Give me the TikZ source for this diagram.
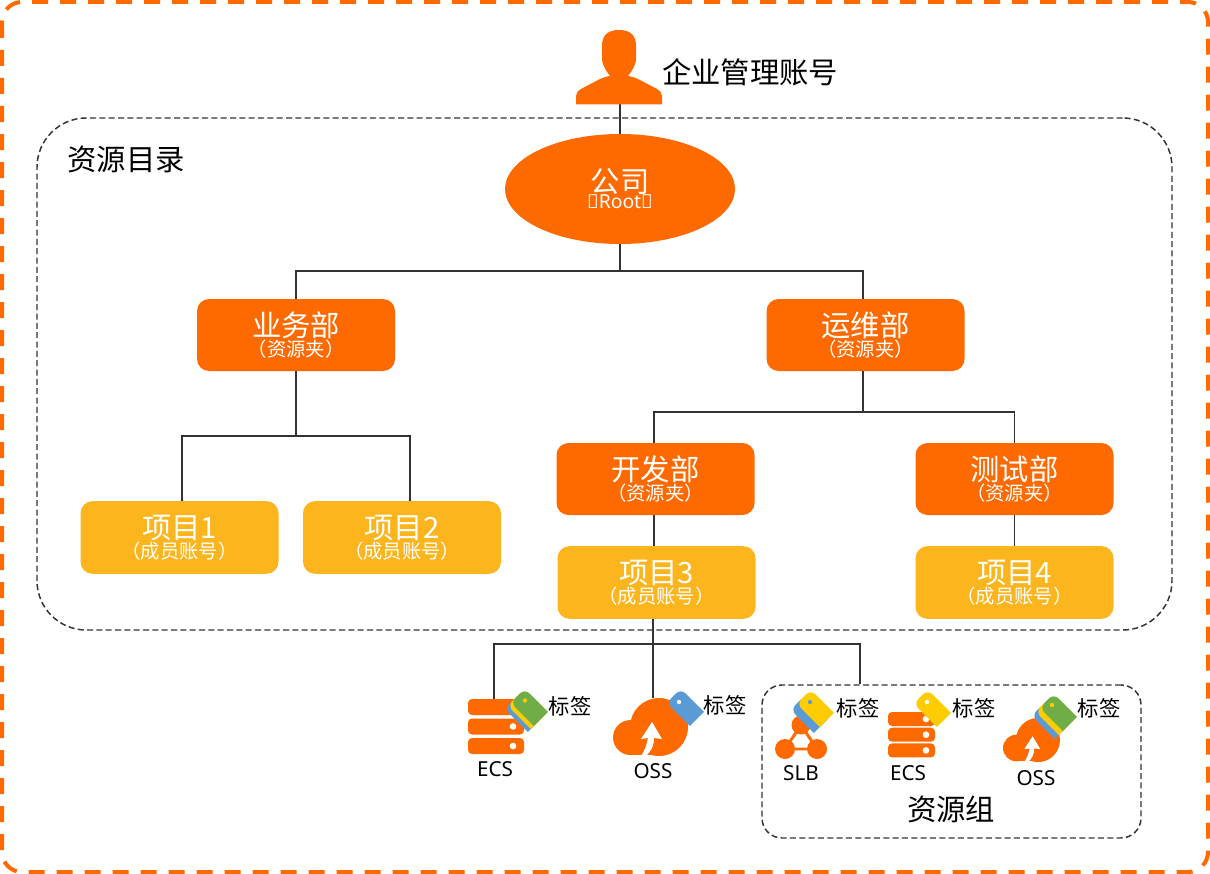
\documentclass[tikz,border=0pt]{standalone}
\usepackage{fontspec}
\setmainfont{Noto Sans CJK SC}
\newfontfamily\latf{Noto Sans}
\usetikzlibrary{shapes.geometric}
\definecolor{org}{HTML}{FF6A00}
\definecolor{amb}{HTML}{FDB51E}
\definecolor{lin}{HTML}{333333}
\definecolor{tgreen}{HTML}{70AD47}
\definecolor{tyellow}{HTML}{FFCC00}
\definecolor{tblue}{HTML}{5B9BD5}
\newcommand{\ttl}[2]{\fontsize{22}{22}\selectfont #1\\[0pt]\fontsize{14.5}{21}\selectfont #2}
\newcommand{\tagshape}[3]{%
  \begin{scope}[shift={(#1,#2)},rotate=-45]
    \fill[#3] (24,-10) -- (-2,-10) .. controls (-6,-10) and (-9,-7) .. (-9,-3) -- (-9,3) .. controls (-9,7) and (-6,10) .. (-2,10) -- (24,10) -- cycle;
  \end{scope}}
\newcommand{\taghole}[3]{\fill[#3] (#1,#2) circle (1.6pt);}
\newcommand{\barsicon}[6]{% x1 x2 y1 barheight gap dotx
  \foreach \i in {0,1,2}{
    \fill[org,rounded corners=3pt] (#1,{#3+\i*#5}) rectangle (#2,{#3+\i*#5+#4});
    \fill[white] (#6,{#3+\i*#5+#4/2}) circle (2.5pt);
  }}
\newcommand{\cloudicon}[3]{% x y scale
  \begin{scope}[shift={(#1,#2)},scale=#3]
    \fill[org] (17.5,39.5) circle [radius=17.5];
    \fill[org] (46,29) circle [radius=29];
    \fill[org] (17.5,57) -- (46,57) -- (46,30) -- (17.5,30) -- cycle;
    \fill[white] (39,24) -- (49,41) -- (41,40) .. controls (41,48) and (38,53) .. (33,58) -- (28,58) .. controls (32,52) and (34,46) .. (35,40) -- (28,41) -- cycle;
  \end{scope}}
\tikzset{
  x=.75pt,y=-.75pt,
  conn/.style={draw=lin,line width=1.1pt},
  outerdash/.style={draw=org,line width=3pt,dash pattern=on 12pt off 9pt,rounded corners=15pt},
  orgbox/.style={fill=org,text=white,rounded corners=9pt,minimum width=148.5pt,minimum height=54pt,inner sep=0pt,align=center},
  ambbox/.style={fill=amb,text=white,rounded corners=9pt,minimum width=148.5pt,minimum height=54.5pt,inner sep=0pt,align=center},
  rootnode/.style={ellipse,fill=org,text=white,minimum width=172.5pt,minimum height=82.5pt,inner sep=0pt,align=center},
  biglab/.style={inner sep=0pt,font=\fontsize{22}{22}\selectfont},
  taglab/.style={inner sep=0pt,font=\fontsize{16}{16}\selectfont},
  reslab/.style={inner sep=0pt,font=\latf\fontsize{15.5}{16}\selectfont},
  grpbox/.style={draw=lin,line width=1.1pt,dash pattern=on 4.5pt off 2.5pt,rounded corners=15pt,minimum width=284.25pt,minimum height=114.75pt,inner sep=0pt},
  catbox/.style={draw=lin,line width=1.1pt,dash pattern=on 4.5pt off 2.5pt,rounded corners=37pt,minimum width=851.25pt,minimum height=384pt,inner sep=0pt}
}
\begin{document}
\begin{tikzpicture}
\useasboundingbox (0,0) rectangle (1210,874);
\draw[outerdash] (2,2) rectangle (1208,872);
\node[catbox] (cat) at (604.5,374) {};
\node[grpbox] (grp) at (951.5,761.5) {};

\coordinate (person) at (620,104);
\coordinate (ecsA) at (494,699);
\coordinate (ossA) at (653,698);
\coordinate (j1) at (620,271);
\coordinate (j2) at (296,436);
\coordinate (j3) at (863,412);
\coordinate (j4) at (653,644);
\coordinate (xa) at (182,0);
\coordinate (xb) at (410,0);
\coordinate (xc) at (654,0);
\coordinate (xd) at (860,0);

\node[rootnode] (root) at (620,189) {\fontsize{22}{22}\selectfont 公司\\[0pt]\latf\fontsize{14.5}{21}\selectfont （Root）};
\node[orgbox] (biz) at (296,335) {\ttl{业务部}{（资源夹）}};
\node[orgbox] (ops) at (865.5,335) {\ttl{运维部}{（资源夹）}};
\node[orgbox] (dev) at (655.5,479) {\ttl{开发部}{（资源夹）}};
\node[orgbox] (tst) at (1014.5,479) {\ttl{测试部}{（资源夹）}};
\node[ambbox] (p1) at (179.5,537.5) {\ttl{项目1}{（成员账号）}};
\node[ambbox] (p2) at (402,537.5) {\ttl{项目2}{（成员账号）}};
\node[ambbox] (p3) at (656.5,582.5) {\ttl{项目3}{（成员账号）}};
\node[ambbox] (p4) at (1014.5,582.5) {\ttl{项目4}{（成员账号）}};

\draw[conn] (person) -- (root.north);
\draw[conn] (root.south) -- (j1);
\draw[conn] (j1) -| (biz.north);
\draw[conn] (j1) -| (j3 |- ops.north);
\draw[conn] (biz.south) -- (j2);
\draw[conn] (j2) -| (xa |- p1.north);
\draw[conn] (j2) -| (xb |- p2.north);
\draw[conn] (j3 |- ops.south) -- (j3);
\draw[conn] (j3) -| (xc |- dev.north);
\draw[conn] (j3) -| (tst.north);
\draw[conn] (xc |- dev.south) -- (xc |- p3.north);
\draw[conn] (tst.south) -- (p4.north);
\draw[conn] (j4 |- p3.south) -- (ossA);
\draw[conn] (j4) -| (ecsA);
\draw[conn] (j4) -| (xd |- grp.north);

% person
\fill[org] (619,30) .. controls (631,30) and (636,36) .. (636,46) -- (636,58) .. controls (636,66) and (631,72) .. (628,76)
  .. controls (632,76.5) and (636,78) .. (640,80) -- (657,89) .. controls (660,91) and (662,93) .. (662,96) -- (662,104.5) -- (576,104.5) -- (576,96)
  .. controls (576,93) and (578,91) .. (581,89) -- (598,80) .. controls (602,78) and (606,76.5) .. (610,76)
  .. controls (607,72) and (602,66) .. (602,58) -- (602,46) .. controls (602,36) and (607,30) .. (619,30) -- cycle;
\node[biglab,anchor=center] (acct) at (750,72) {企业管理账号};
\node[biglab] (catlab) at (126,159) {资源目录};

% ECS 1
\barsicon{468}{524}{699}{16}{19.5}{513}
\tagshape{518}{708}{tblue}
\tagshape{521}{705}{tyellow}
\tagshape{524}{702}{tgreen}
\taghole{525}{700.5}{tyellow}
\node[taglab] (t1) at (570,706) {标签};
\node[reslab] (ecs1) at (495,769) {ECS};

% OSS 1
\cloudicon{613}{698}{1}
\tagshape{680}{702}{tblue}
\taghole{679}{702}{white}
\node[taglab] (t2) at (725,705) {标签};
\node[reslab] (oss1) at (653,771) {OSS};

% SLB
\draw[org,line width=2.2pt] (801,725) -- (785,749) -- (817,749) -- cycle;
\fill[org] (801,725) circle [radius=9.5];
\fill[org] (785,749) circle [radius=10];
\fill[org] (817,749) circle [radius=10];
\tagshape{804}{709}{tblue}
\taghole{804}{707}{white}
\tagshape{810}{703}{tyellow}
\taghole{810}{702}{tblue}
\node[taglab] (t3) at (858,708) {标签};
\node[reslab] (slb) at (801,773) {SLB};

% ECS 2
\barsicon{888}{935}{712}{14}{15.7}{926}
\tagshape{927}{703}{tyellow}
\taghole{927}{702}{white}
\node[taglab] (t4) at (974,708) {标签};
\node[reslab] (ecs2) at (908,773) {ECS};

% OSS 2
\cloudicon{1003}{718}{.76}
\tagshape{1045}{715}{tblue}
\tagshape{1049}{711}{tyellow}
\tagshape{1053}{707}{tgreen}
\taghole{1052}{705}{tyellow}
\node[taglab] (t5) at (1099,708) {标签};
\node[reslab] (oss2) at (1036,778) {OSS};
\node[biglab] (grplab) at (951,809) {资源组};
\end{tikzpicture}
\end{document}
